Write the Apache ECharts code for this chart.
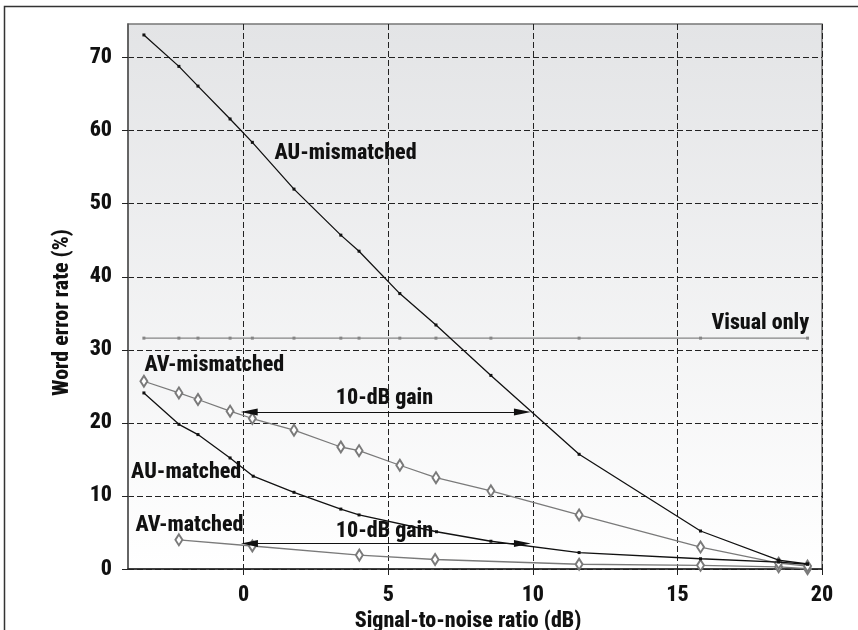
<!DOCTYPE html>
<html><head><meta charset="utf-8">
<script src="https://cdn.jsdelivr.net/npm/echarts@6/dist/echarts.min.js"></script>
<style>html,body{margin:0;padding:0;background:#fff}#c{width:858px;height:630px}</style>
</head><body><div id="c"></div>
<script>
// ---- data ----
const xTicks = [0, 5, 10, 15, 20];
const yTicks = [0, 10, 20, 30, 40, 50, 60, 70];

const snrAUmis = [-3.45, -2.24, -1.58, -0.47, 0.3, 1.74, 3.36, 3.99, 5.4, 6.65, 8.55, 11.6, 15.8, 18.5, 19.5];
const werAUmis = [73.1, 68.8, 66.1, 61.6, 58.4, 52.0, 45.7, 43.5, 37.7, 33.4, 26.5, 15.7, 5.2, 1.2, 0.7];

const snrAVmis = [-3.45, -2.24, -1.58, -0.47, 0.3, 1.74, 3.36, 3.99, 5.4, 6.65, 8.55, 11.6, 15.8, 18.5, 19.5];
const werAVmis = [25.7, 24.1, 23.2, 21.6, 20.6, 19.0, 16.7, 16.2, 14.2, 12.5, 10.7, 7.4, 3.0, 0.8, 0.4];

const snrAUmat = [-3.45, -2.24, -1.58, -0.47, 0.33, 1.74, 3.36, 3.99, 6.67, 8.55, 11.6, 15.8, 18.5, 19.5];
const werAUmat = [24.1, 19.8, 18.4, 15.2, 12.7, 10.5, 8.2, 7.4, 5.1, 3.8, 2.25, 1.4, 0.95, 0.65];

const snrAVmat = [-2.24, 0.3, 4.0, 6.62, 11.6, 15.8, 18.5, 19.5];
const werAVmat = [4.0, 3.15, 1.9, 1.3, 0.65, 0.5, 0.3, 0.05];

const snrVis = [-3.45, -2.24, -1.58, -0.47, 0.3, 1.74, 3.36, 3.99, 5.4, 6.65, 8.55, 11.6, 15.8, 19.5];
const werVis = [31.6, 31.6, 31.6, 31.6, 31.6, 31.6, 31.6, 31.6, 31.6, 31.6, 31.6, 31.6, 31.6, 31.6];

const annoText = ['AU-mismatched', 'Visual only', 'AV-mismatched', '10-dB gain', 'AU-matched', 'AV-matched', '10-dB gain'];
const annoX = [1.05, 16.16, -3.45, 3.17, -3.91, -3.76, 3.17];
const annoY = [56.9, 33.6, 27.9, 23.3, 13.15, 6.0, 5.07];

// arrows: [x1, y1, x2, y2] (centres of arrowheads)
const arrowUpper = [0.19, 21.5, 9.64, 21.5];
const arrowLower = [0.2, 3.5, 9.64, 3.5];

// ---- chart ----
const FONT = "'Roboto Condensed', 'Open Sans', sans-serif";
const zip = (xs, ys) => xs.map((x, i) => [x, ys[i]]);
const chart = echarts.init(document.getElementById('c'), null, {renderer: 'canvas'});

const txt = {fontFamily: FONT, fontWeight: 800, fontSize: 22, color: '#111'};
const dash = {color: '#222', width: 1, type: [6, 3]};

chart.setOption({
  animation: false,
  backgroundColor: '#fff',
  graphic: [{
    type: 'rect', shape: {x: 4.5, y: 6.5, width: 900, height: 700},
    style: {fill: 'none', stroke: '#333', lineWidth: 1.5}, z: 100
  }],
  grid: {
    left: 128, right: 36, top: 24, bottom: 61,
    outerBoundsMode: 'none', containLabel: false,
    show: true,
    backgroundColor: new echarts.graphic.LinearGradient(0, 0, 0, 1, [
      {offset: 0, color: '#e3e4e6'}, {offset: 1, color: '#ffffff'}
    ]),
    borderColor: '#777', borderWidth: 1.5
  },
  xAxis: {
    type: 'value', min: -4, max: 20,
    name: 'Signal-to-noise ratio (dB)', nameLocation: 'middle', nameGap: 37,
    nameTextStyle: Object.assign({}, txt, {padding: [0, 14, 0, 0]}),
    axisLine: {show: true, onZero: false, lineStyle: {color: '#222', width: 1.5}},
    axisTick: {show: true, length: 8, customValues: xTicks, lineStyle: {color: '#222', width: 1, type: [6, 3]}},
    axisLabel: Object.assign({}, txt, {margin: 15, customValues: xTicks}),
    splitLine: {show: true, lineStyle: dash}
  },
  yAxis: {
    type: 'value', min: 0, max: 74.6,
    name: 'Word error rate (%)', nameLocation: 'middle', nameGap: 55, nameRotate: 90,
    nameTextStyle: Object.assign({}, txt, {padding: [0, 32, 0, 0]}),
    axisLine: {show: true, onZero: false, lineStyle: {color: '#555', width: 1.5}},
    axisTick: {show: true, length: 8, customValues: yTicks, lineStyle: {color: '#222', width: 1, type: [6, 3]}},
    axisLabel: Object.assign({}, txt, {margin: 16, customValues: yTicks}),
    splitLine: {show: true, lineStyle: dash}
  },
  series: [
    {
      name: 'Visual only', type: 'line', data: zip(snrVis, werVis),
      symbol: 'rect', symbolSize: 3,
      lineStyle: {color: '#858585', width: 1.3}, itemStyle: {color: '#858585'}, z: 3
    },
    {
      name: 'AV-matched', type: 'line', data: zip(snrAVmat, werAVmat),
      symbol: 'emptyDiamond', symbolSize: [7, 11],
      lineStyle: {color: '#7a7a7a', width: 1.3}, itemStyle: {color: '#7a7a7a', borderWidth: 1.2}, z: 4
    },
    {
      name: 'AV-mismatched', type: 'line', data: zip(snrAVmis, werAVmis),
      symbol: 'emptyDiamond', symbolSize: [7, 11],
      lineStyle: {color: '#7a7a7a', width: 1.3}, itemStyle: {color: '#7a7a7a', borderWidth: 1.2}, z: 4
    },
    {
      name: 'AU-matched', type: 'line', data: zip(snrAUmat, werAUmat),
      symbol: 'rect', symbolSize: 3,
      lineStyle: {color: '#111', width: 1.3}, itemStyle: {color: '#111'}, z: 5
    },
    {
      name: 'AU-mismatched', type: 'line', data: zip(snrAUmis, werAUmis),
      symbol: 'rect', symbolSize: 3,
      lineStyle: {color: '#111', width: 1.3}, itemStyle: {color: '#111'}, z: 5
    },
    {
      name: 'annotations', type: 'scatter', silent: true, z: 6,
      symbolSize: 1, itemStyle: {color: 'rgba(0,0,0,0)'},
      data: annoText.map((t, i) => ({name: t, value: [annoX[i], annoY[i]]})),
      label: Object.assign({show: true, position: 'right', distance: 0, formatter: '{b}', opacity: 1}, txt),
      markLine: {
        silent: true, symbol: ['triangle', 'triangle'], symbolSize: [7, 17],
        lineStyle: {color: '#111', width: 1.2, type: 'solid'},
        itemStyle: {color: '#111'},
        label: {show: false},
        data: [
          [{coord: [arrowUpper[0], arrowUpper[1]]}, {coord: [arrowUpper[2], arrowUpper[3]]}],
          [{coord: [arrowLower[0], arrowLower[1]]}, {coord: [arrowLower[2], arrowLower[3]]}]
        ]
      }
    }
  ]
});
</script></body></html>
